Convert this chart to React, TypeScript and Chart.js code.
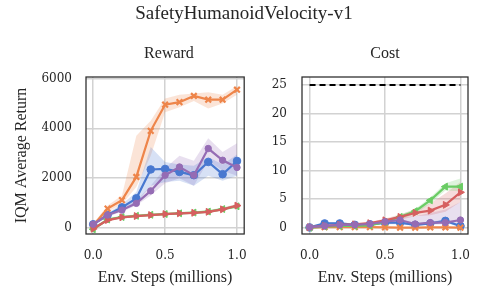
import React, { useEffect, useRef } from 'react';
import { Chart, registerables } from 'chart.js';

Chart.register(...registerables);

// ---------- data ----------
const steps = [0, 0.1, 0.2, 0.3, 0.4, 0.5, 0.6, 0.7, 0.8, 0.9, 1.0];
const xTicks = [0, 0.5, 1.0];
const rewardTicks = [0, 2000, 4000, 6000];
const costTicks = [0, 5, 10, 15, 20, 25];
const costLimit = 25;

const mainTitle = 'SafetyHumanoidVelocity-v1';
const rewardTitle = 'Reward';
const costTitle = 'Cost';
const yLabel = 'IQM Average Return';
const xLabel = 'Env. Steps (millions)';

// Reward (mean, upper, lower)
const rewardBlue = [150, 520, 830, 1190, 2350, 2370, 2250, 2120, 2650, 2160, 2690];
const rewardBlueHi = [200, 600, 950, 1450, 3250, 2650, 2550, 2500, 2850, 2550, 2950];
const rewardBlueLo = [100, 450, 700, 1000, 1700, 1850, 1900, 1700, 2100, 1900, 2100];

const rewardOrange = [100, 780, 1120, 2050, 3900, 4950, 5050, 5300, 5150, 5150, 5550];
const rewardOrangeHi = [180, 900, 1300, 3700, 4300, 5200, 5350, 5400, 5450, 5350, 5700];
const rewardOrangeLo = [40, 650, 950, 1650, 2900, 4650, 4850, 5100, 4800, 5000, 5350];

const rewardGreen = [-50, 340, 440, 490, 530, 560, 590, 620, 660, 760, 870];
const rewardGreenHi = [0, 400, 490, 540, 580, 610, 640, 670, 720, 820, 940];
const rewardGreenLo = [-100, 290, 390, 440, 480, 510, 540, 570, 600, 700, 800];

const rewardRed = [-30, 320, 430, 480, 520, 560, 590, 610, 650, 750, 900];
const rewardRedHi = [20, 380, 480, 530, 570, 610, 640, 660, 700, 810, 970];
const rewardRedLo = [-80, 260, 380, 430, 470, 510, 540, 560, 600, 690, 830];

const rewardPurple = [150, 520, 720, 990, 1490, 2120, 2450, 2120, 3190, 2720, 2430];
const rewardPurpleHi = [200, 580, 800, 1100, 1700, 2400, 2900, 2700, 3600, 3050, 3400];
const rewardPurpleLo = [100, 450, 650, 900, 1300, 1800, 2000, 1700, 2700, 2300, 2100];

// Cost (mean, upper, lower)
const costBlue = [0.05, 0.75, 0.75, 0.5, 0.6, 0.9, 0.9, 0.5, 0.75, 1.2, 0.3];
const costBlueHi = [0.1, 1.0, 1.0, 0.7, 0.8, 1.2, 1.2, 0.7, 1.0, 1.5, 0.5];
const costBlueLo = [0, 0.5, 0.5, 0.3, 0.4, 0.6, 0.6, 0.3, 0.5, 0.9, 0.1];

const costOrange = [0, 0.1, 0.1, 0.1, 0.1, 0.05, 0, 0, 0.05, 0.05, 0];
const costOrangeHi = [0.05, 0.2, 0.2, 0.2, 0.2, 0.15, 0.1, 0.1, 0.15, 0.15, 0.1];
const costOrangeLo = [0, 0, 0, 0, 0, 0, 0, 0, 0, 0, 0];

const costGreen = [0, 0.2, 0.3, 0.3, 0.4, 1.0, 1.9, 2.9, 4.8, 7.2, 7.2];
const costGreenHi = [0.1, 0.3, 0.4, 0.4, 0.6, 1.3, 2.3, 3.3, 5.3, 7.8, 8.6];
const costGreenLo = [0, 0.1, 0.2, 0.2, 0.3, 0.7, 1.5, 2.4, 4.2, 6.5, 6.4];

const costRed = [0.1, 0.3, 0.5, 0.6, 0.8, 1.3, 1.9, 2.6, 3.0, 4.0, 6.2];
const costRedHi = [0.2, 0.4, 0.6, 0.8, 1.0, 1.6, 2.3, 3.2, 4.3, 6.0, 8.0];
const costRedLo = [0, 0.2, 0.4, 0.5, 0.6, 1.0, 1.4, 2.0, 2.2, 2.8, 4.5];

const costPurple = [0.1, 0.3, 0.5, 0.5, 0.65, 1.05, 1.35, 0.65, 0.9, 0.9, 1.35];
const costPurpleHi = [0.2, 0.5, 0.7, 0.7, 0.9, 1.5, 1.9, 2.0, 2.6, 3.2, 4.5];
const costPurpleLo = [0, 0.2, 0.3, 0.3, 0.4, 0.6, 0.8, 0.4, 0.5, 0.6, 0.7];

// ---------- styles ----------
const BLUE = '#4878d0';
const ORANGE = '#ee854a';
const GREEN = '#6acc64';
const RED = '#d65f5f';
const PURPLE = '#956cb4';

const TICK_FONT = { family: '"DejaVu Serif", serif', size: 12 };
const LABEL_FONT = { family: '"Liberation Serif", "Times New Roman", serif', size: 16 };
const TEXT_COLOR = '#262626';
const GRID_COLOR = '#d2d2d2';

function hexA(hex: string, a: number) {
  const n = parseInt(hex.slice(1), 16);
  return `rgba(${(n >> 16) & 255},${(n >> 8) & 255},${n & 255},${a})`;
}

type Series = {
  color: string;
  mean: number[];
  hi: number[];
  lo: number[];
  pointStyle: string;
  radius: number;
  rotation: number;
  order: number;
};

const pts = (arr: number[]) => arr.map((y, i) => ({ x: steps[i], y }));

function buildDatasets(series: Series[]) {
  const ds: any[] = [];
  series.forEach((s) => {
    ds.push({
      data: pts(s.hi),
      borderWidth: 0,
      pointRadius: 0,
      backgroundColor: hexA(s.color, 0.22),
      fill: '+1',
      order: 20,
      tension: 0,
    });
    ds.push({
      data: pts(s.lo),
      borderWidth: 0,
      pointRadius: 0,
      backgroundColor: 'transparent',
      fill: false,
      order: 20,
      tension: 0,
    });
  });
  series.forEach((s) => {
    ds.push({
      data: pts(s.mean),
      borderColor: s.color,
      backgroundColor: s.color,
      borderWidth: 2.2,
      pointStyle: s.pointStyle,
      pointRadius: s.radius,
      pointRotation: s.rotation,
      pointBorderWidth: s.pointStyle === 'crossRot' ? 2.2 : 1,
      pointBorderColor: s.color,
      pointBackgroundColor: s.color,
      fill: false,
      order: s.order,
      tension: 0,
    });
  });
  return ds;
}

const framePlugin = {
  id: 'frame',
  afterDraw(chart: any) {
    const { ctx, chartArea: a } = chart;
    ctx.save();
    ctx.strokeStyle = '#2a2a2a';
    ctx.lineWidth = 1.25;
    ctx.strokeRect(a.left, a.top, a.right - a.left, a.bottom - a.top);
    ctx.restore();
  },
};

function makeConfig(opts: {
  datasets: any[];
  yMin: number;
  yMax: number;
  yTicks: number[];
  yWidth: number;
  yPad: number;
  rightPad: number;
  yTitle?: string;
}) {
  return {
    type: 'line',
    data: { datasets: opts.datasets },
    plugins: [framePlugin],
    options: {
      animation: false,
      responsive: false,
      devicePixelRatio: 1,
      layout: { padding: { top: 77, left: 0, right: opts.rightPad, bottom: 0 } },
      plugins: {
        legend: { display: false },
        tooltip: { enabled: false },
        title: { display: false },
      },
      scales: {
        x: {
          type: 'linear',
          min: -0.05,
          max: 1.05,
          afterBuildTicks: (scale: any) => {
            scale.ticks = xTicks.map((v) => ({ value: v }));
          },
          afterFit: (scale: any) => {
            scale.height = 68;
          },
          grid: { color: GRID_COLOR, lineWidth: 1.5, drawTicks: false },
          border: { display: false },
          ticks: {
            font: TICK_FONT,
            color: TEXT_COLOR,
            padding: 15,
            maxRotation: 0,
            autoSkip: false,
            callback: (v: any) => Number(v).toFixed(1),
          },
          title: {
            display: true,
            text: xLabel,
            font: LABEL_FONT,
            color: TEXT_COLOR,
            padding: { top: 0, bottom: 15 },
          },
        },
        y: {
          type: 'linear',
          min: opts.yMin,
          max: opts.yMax,
          afterBuildTicks: (scale: any) => {
            scale.ticks = opts.yTicks.map((v) => ({ value: v }));
          },
          afterFit: (scale: any) => {
            scale.width = opts.yWidth;
          },
          grid: { color: GRID_COLOR, lineWidth: 1.5, drawTicks: false },
          border: { display: false },
          ticks: {
            font: TICK_FONT,
            color: TEXT_COLOR,
            padding: opts.yPad,
            autoSkip: false,
            callback: (v: any) => String(v),
          },
          title: {
            display: !!opts.yTitle,
            text: opts.yTitle || '',
            font: LABEL_FONT,
            color: TEXT_COLOR,
            padding: { top: 12, bottom: 0 },
          },
        },
      },
    },
  };
}

const rewardSeries: Series[] = [
  { color: BLUE, mean: rewardBlue, hi: rewardBlueHi, lo: rewardBlueLo, pointStyle: 'circle', radius: 3.8, rotation: 0, order: 5 },
  { color: ORANGE, mean: rewardOrange, hi: rewardOrangeHi, lo: rewardOrangeLo, pointStyle: 'crossRot', radius: 4, rotation: 0, order: 4 },
  { color: GREEN, mean: rewardGreen, hi: rewardGreenHi, lo: rewardGreenLo, pointStyle: 'triangle', radius: 4, rotation: -90, order: 3 },
  { color: RED, mean: rewardRed, hi: rewardRedHi, lo: rewardRedLo, pointStyle: 'triangle', radius: 4, rotation: 90, order: 2 },
  { color: PURPLE, mean: rewardPurple, hi: rewardPurpleHi, lo: rewardPurpleLo, pointStyle: 'circle', radius: 3.2, rotation: 0, order: 1 },
];

const costSeries: Series[] = [
  { color: BLUE, mean: costBlue, hi: costBlueHi, lo: costBlueLo, pointStyle: 'circle', radius: 3.8, rotation: 0, order: 5 },
  { color: ORANGE, mean: costOrange, hi: costOrangeHi, lo: costOrangeLo, pointStyle: 'crossRot', radius: 4, rotation: 0, order: 4 },
  { color: GREEN, mean: costGreen, hi: costGreenHi, lo: costGreenLo, pointStyle: 'triangle', radius: 4, rotation: -90, order: 3 },
  { color: RED, mean: costRed, hi: costRedHi, lo: costRedLo, pointStyle: 'triangle', radius: 4, rotation: 90, order: 2 },
  { color: PURPLE, mean: costPurple, hi: costPurpleHi, lo: costPurpleLo, pointStyle: 'circle', radius: 3.2, rotation: 0, order: 1 },
];

function Panel(props: { left: number; width: number; config: () => any }) {
  const ref = useRef<HTMLCanvasElement | null>(null);
  useEffect(() => {
    if (!ref.current) return;
    const chart = new Chart(ref.current, props.config() as any);
    return () => chart.destroy();
  }, []);
  return (
    <canvas
      ref={ref}
      width={props.width}
      height={302}
      style={{ position: 'absolute', left: props.left, top: 0, width: props.width, height: 302 }}
    />
  );
}

const textStyle: React.CSSProperties = {
  position: 'absolute',
  fontFamily: '"Liberation Serif", "Times New Roman", serif',
  color: TEXT_COLOR,
  whiteSpace: 'nowrap',
  textAlign: 'center',
};

export default function App() {
  const rewardConfig = () =>
    makeConfig({
      datasets: buildDatasets(rewardSeries),
      yMin: -240,
      yMax: 6060,
      yTicks: rewardTicks,
      yWidth: 86,
      yPad: 14,
      rightPad: 262 - 252,
      yTitle: yLabel,
    });
  const costConfig = () => {
    const ds = buildDatasets(costSeries);
    ds.push({
      data: [
        { x: 0, y: costLimit },
        { x: 1, y: costLimit },
      ],
      borderColor: '#000000',
      borderWidth: 2,
      borderDash: [6, 4],
      pointRadius: 0,
      fill: false,
      order: 0,
    });
    return makeConfig({
      datasets: ds,
      yMin: -1.1,
      yMax: 26.4,
      yTicks: costTicks,
      yWidth: 40,
      yPad: 15,
      rightPad: 488 - 468,
    });
  };

  return (
    <div style={{ position: 'fixed', left: 0, top: 0, width: 488, height: 302, background: '#ffffff', overflow: 'hidden' }}>
      <Panel left={0} width={262} config={rewardConfig} />
      <Panel left={262} width={226} config={costConfig} />
      <div style={{ ...textStyle, left: 0, width: 488, top: 3, fontSize: 19, lineHeight: '19px' }}>{mainTitle}</div>
      <div style={{ ...textStyle, left: 86, width: 166, top: 45, fontSize: 16, lineHeight: '16px' }}>{rewardTitle}</div>
      <div style={{ ...textStyle, left: 302, width: 166, top: 45, fontSize: 16, lineHeight: '16px' }}>{costTitle}</div>
    </div>
  );
}
